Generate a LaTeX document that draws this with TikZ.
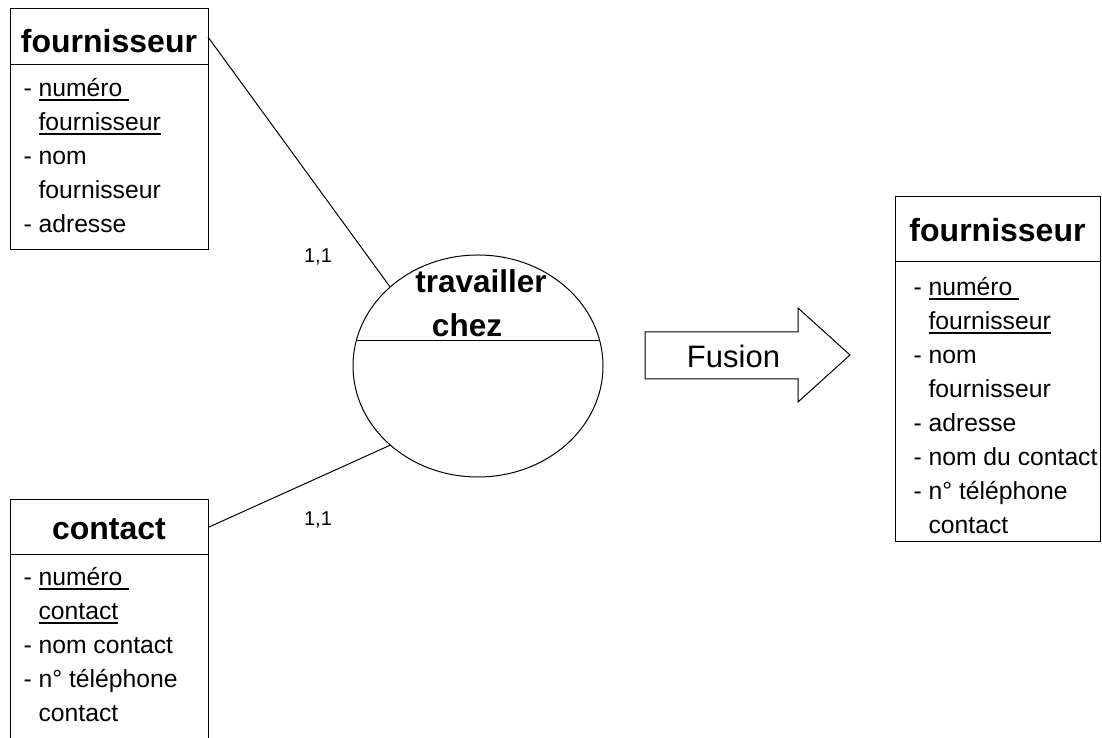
\documentclass[tikz,border=0pt]{standalone}
\usepackage{fontspec}
\setmainfont{Liberation Sans}
\usepackage{tikz}
\usetikzlibrary{positioning}
\usetikzlibrary{shapes.geometric}

% identifiant souligne
\newcommand\clef[1]{\setbox0\hbox{#1}\rlap{\rule[-5pt]{\wd0}{2pt}}\box0}

\begin{document}
\begin{tikzpicture}[x=1pt,y=1pt,line width=1pt,
      head style/.style={rectangle,draw=black,inner sep=0pt,outer sep=0pt,
        anchor=north west,font=\fontsize{32}{38}\selectfont\bfseries},
      body style/.style={rectangle,draw=black,inner sep=0pt,outer sep=0pt,
        anchor=north west},
      attr style/.style={inner sep=0pt,align=left,
        font=\fontsize{24.7}{34}\selectfont},
      rel style/.style={ellipse,draw=black,inner sep=0pt,minimum
        width=250pt,minimum height=222pt},
      card style/.style={font=\fontsize{20}{24}\selectfont}
      ]
      \useasboundingbox (0,0) rectangle (1102,738);

      % fournisseur
      \node[head style,minimum width=198pt,text height=44pt,text depth=12pt] (fhead) at (10,729) {fournisseur};
      \node[body style,minimum width=198pt,minimum height=185pt] (fbody) at (fhead.south west) {};
      \node[attr style,below right=6pt and 13pt of fbody.north west] (fattr)
        {\rule{0pt}{25pt}- \clef{numéro }\\ \phantom{- }\clef{fournisseur}\\
          - nom\\ \phantom{- }fournisseur\\ - adresse};

      % contact
      \node[head style,minimum width=198pt,text height=40pt,text depth=15pt] (chead) at (10,238) {contact};
      \node[body style,minimum width=198pt,minimum height=184pt] (cbody) at (chead.south west) {};
      \node[attr style,below right=5pt and 13pt of cbody.north west] (cattr)
        {\rule{0pt}{25pt}- \clef{numéro }\\ \phantom{- }\clef{contact}\\
          - nom contact\\ - n° téléphone\\ \phantom{- }contact};

      % association
      \node[rel style] (rel) at (478,372) {};
      \draw (rel.168) -- (rel.12);
      \node[anchor=base,font=\fontsize{31.5}{36}\selectfont\bfseries] (reltop) at (481,445) {travailler};
      \node[anchor=base,font=\fontsize{31.5}{36}\selectfont\bfseries] (relbot) at (467,401) {chez};

      \draw (fhead.east) -- (rel.138);
      \draw (chead.east) -- (rel.222);
      \node[card style] (card1) at (318,481) {1,1};
      \node[card style] (card2) at (318,218) {1,1};

      % fusion
      \draw (645,406) -- (798,406) -- (798,430) -- (850,383) -- (798,336)
        -- (798,359) -- (645,359) -- cycle;
      \node[anchor=base,font=\fontsize{31}{36}\selectfont] (fusion) at (733.5,370) {Fusion};

      % fournisseur apres fusion
      \node[head style,minimum width=205pt,text height=45pt,text depth=20pt] (rhead) at (895,541) {fournisseur};
      \node[body style,minimum width=205pt,minimum height=280pt] (rbody) at (rhead.south west) {};
      \node[attr style,below right=8pt and 18pt of rbody.north west] (rattr)
        {\rule{0pt}{25pt}- \clef{numéro }\\ \phantom{- }\clef{fournisseur}\\
          - nom\\ \phantom{- }fournisseur\\ - adresse\\ - nom du contact\\
          - n° téléphone\\ \phantom{- }contact};

    \end{tikzpicture}
\end{document}
